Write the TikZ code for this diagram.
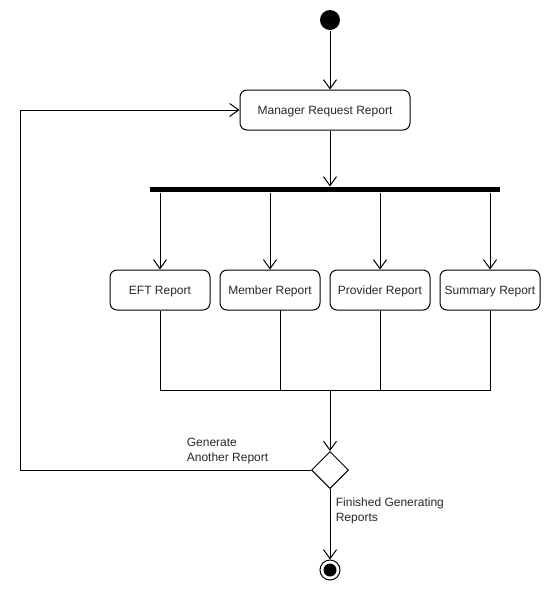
\documentclass[tikz,border=0pt]{standalone}
\usepackage{fontspec}
\setmainfont{Liberation Sans}
\usetikzlibrary{arrows.meta,shapes.geometric}
\definecolor{txt}{RGB}{40,40,40}
\begin{document}
\begin{tikzpicture}[x=1pt,y=-1pt,line width=1pt,
  lbl/.style={font=\fontsize{12}{15}\selectfont,text=txt},
  act/.style={draw,rounded corners=7pt,minimum height=40pt,inner sep=0pt,text height=9pt,text depth=0pt,lbl},
  flow/.style={-{Straight Barb[length=9pt,width=13pt]}},
  bar/.style={fill,inner sep=0pt,minimum height=5pt},
  initial/.style={circle,fill,inner sep=0pt,minimum size=20pt},
  final/.style={circle,draw,inner sep=0pt,minimum size=20pt},
  finalcore/.style={circle,fill,inner sep=0pt,minimum size=13pt},
  choice/.style={diamond,draw,inner sep=0pt,minimum width=37pt,minimum height=37pt}]
\useasboundingbox (0,0) rectangle (550,590);

% nodes
\node[initial] (start) at (330,20) {};
\node[act,minimum width=170pt] (mgr) at (325,110) {Manager Request Report};
\node[bar,minimum width=350pt] (fork) at (325,189.5) {};
\node[act,minimum width=100pt] (eft) at (160,290) {EFT Report};
\node[act,minimum width=100pt] (member) at (270,290) {Member Report};
\node[act,minimum width=100pt] (provider) at (380,290) {Provider Report};
\node[act,minimum width=100pt] (summary) at (490,290) {Summary Report};
\node[choice] (decision) at (330,470) {};
\node[final] (end) at (330,570) {};
\node[finalcore] (endcore) at (end) {};

\coordinate (join) at (330,390);
\coordinate (loop) at (20,470);
\coordinate (memberout) at (280,310);

% start and request
\draw[flow] (start) -- (start |- mgr.north);
\draw[flow] (start |- mgr.south) -- (start |- fork.north);

% fork into the four reports
\foreach \r in {eft,member,provider,summary}
  \draw[flow] (\r.north |- fork.south) -- (\r.north);

% reports merge
\draw (eft.south) -- (eft.south |- join) -- (summary.south |- join) -- (summary.south);
\draw (memberout) -- (memberout |- join);
\draw (provider.south) -- (provider.south |- join);
\draw[flow] (join) -- (decision.north);

% decision branches
\draw[flow] (decision.west) -- (loop) |- (mgr.west);
\draw[flow] (decision.south) -- (end.north);

\node[lbl,anchor=west,align=left] (again) at (183,451) {Generate\\Another Report};
\node[lbl,anchor=west,align=left] (done) at (332,511) {Finished Generating\\Reports};
\end{tikzpicture}
\end{document}
